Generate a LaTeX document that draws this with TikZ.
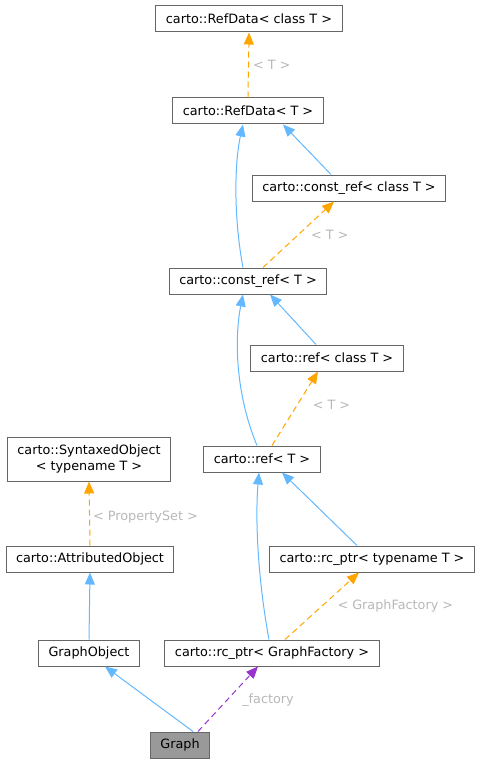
\documentclass[tikz,border=0pt]{standalone}
\usepackage{fontspec}
\setmainfont{DejaVu Sans}
\usetikzlibrary{arrows.meta}
\definecolor{edgeblue}{HTML}{63B8FF}
\definecolor{edgeorange}{HTML}{FFA500}
\definecolor{edgepurple}{HTML}{9A32CD}
\definecolor{boxline}{HTML}{666666}
\definecolor{lblgray}{HTML}{B8B8B8}
\definecolor{selfill}{HTML}{999999}
\tikzset{
  classnode/.style={
    rectangle, draw=boxline, fill=white, line width=1pt,
    minimum height=26pt, inner xsep=10pt, inner ysep=3pt, align=center,
    font=\fontsize{12.8}{16}\selectfont
  },
  inherit/.style={-{Triangle[length=12pt,width=10pt]}, line width=1pt, color=edgeblue},
  tmplarrow/.style={inherit, color=edgeorange, dash pattern=on 6pt off 4pt},
  usearrow/.style={inherit, color=edgepurple, dash pattern=on 6pt off 4pt},
  edgelabel/.style={font=\fontsize{12.8}{15}\selectfont, text=lblgray, inner sep=1pt},
}

\begin{document}
\begin{tikzpicture}[x=1pt, y=-1pt]
  \useasboundingbox (0,0) rectangle (482,765);

  \node[classnode] (refdatacls) at (249,19) {carto::RefData< class T >};
  \node[classnode] (refdata) at (248,111) {carto::RefData< T >};
  \node[classnode] (constrefcls) at (349,188) {carto::const\_ref< class T >};
  \node[classnode] (constref) at (248,281) {carto::const\_ref< T >};
  \node[classnode] (refcls) at (327,358) {carto::ref< class T >};
  \node[classnode] (ref) at (262,459) {carto::ref< T >};
  \node[classnode, minimum height=44pt] (syntaxed) at (89,459) {carto::SyntaxedObject\\< typename T >};
  \node[classnode] (attributed) at (90,559) {carto::AttributedObject};
  \node[classnode] (rcptrcls) at (372,559) {carto::rc\_ptr< typename T >};
  \node[classnode] (graphobj) at (89,653) {GraphObject};
  \node[classnode] (rcptr) at (272,653) {carto::rc\_ptr< GraphFactory >};
  \node[classnode, fill=selfill] (graph) at (180,745) {Graph};

  % template instances
  \draw[tmplarrow] (refdata.north) -- node[edgelabel, right=3pt, pos=0.5] {< T >} (refdatacls.south);
  \draw[tmplarrow] ([xshift=15pt]constref.north) -- node[edgelabel, right=11pt, pos=0.5] {< T >} ([xshift=-15pt]constrefcls.south);
  \draw[tmplarrow] ([xshift=10pt]ref.north) -- node[edgelabel, right=14pt, pos=0.55] {< T >} ([xshift=-9pt]refcls.south);
  \draw[tmplarrow] ([xshift=13pt]rcptr.north) -- node[edgelabel, right=14pt, pos=0.5] {< GraphFactory >} ([xshift=-13pt]rcptrcls.south);
  \draw[tmplarrow] (attributed.north) -- node[edgelabel, right=2pt, pos=0.45] {< PropertySet >} (syntaxed.south);

  % inheritance
  \draw[inherit] ([xshift=-18pt]constrefcls.north) -- ([xshift=35pt]refdata.south);
  \draw[inherit] ([xshift=-5pt]constref.north) .. controls (234,220) and (234,165) .. ([xshift=-5pt]refdata.south);
  \draw[inherit] ([xshift=-11pt]refcls.north) -- ([xshift=22pt]constref.south);
  \draw[inherit] ([xshift=-5pt]ref.north) .. controls (236,395) and (234,340) .. ([xshift=-5pt]constref.south);
  \draw[inherit] ([xshift=-15pt]rcptrcls.north) -- ([xshift=20pt]ref.south);
  \draw[inherit] ([xshift=-3pt]rcptr.north) .. controls (258,580) and (255,520) .. ([xshift=-3pt]ref.south);
  \draw[inherit] (graphobj.north) -- (attributed.south);
  \draw[inherit] ([xshift=13pt]graph.north) -- ([xshift=16pt]graphobj.south);

  % usage
  \draw[usearrow] ([xshift=18pt]graph.north) -- node[edgelabel, right=14pt, pos=0.48] {\_factory} ([xshift=-14pt]rcptr.south);
\end{tikzpicture}
\end{document}
